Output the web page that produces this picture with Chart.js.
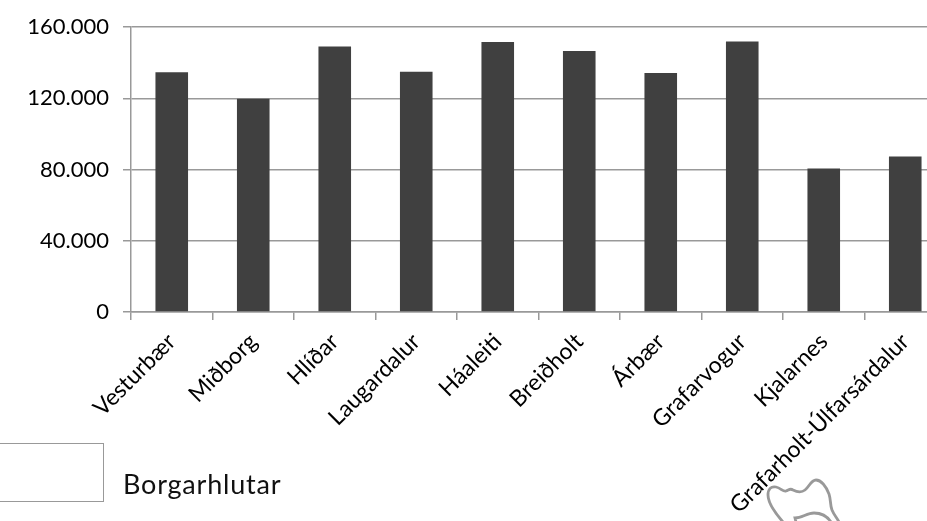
<!DOCTYPE html>
<html>
<head>
<meta charset="utf-8">
<style>
html, body { margin: 0; padding: 0; width: 927px; height: 521px; overflow: hidden; background: #fff; }
#wrap { position: relative; width: 990px; height: 521px; }
#box { position: absolute; left: -10px; top: 443px; width: 112px; height: 57px; border: 1px solid #999; }
#title { position: absolute; left: 123px; top: 467px; font: 27px Lato, sans-serif; letter-spacing: 0.8px; color: #111; }
#blob { position: absolute; left: 0; top: 0; }
</style>
<script src="https://cdn.jsdelivr.net/npm/chart.js@4"></script>
</head>
<body>
<div id="wrap">
  <canvas id="chart" width="990" height="521"></canvas>
  <div id="box"></div>
  <div id="title">Borgarhlutar</div>
  <svg id="blob" width="927" height="521" fill="none" stroke="#999" stroke-width="2.8">
    <path d="M783 522 C776 514 768 504 768 495 C768 489 771 486 776 487 C781 488 783 492 786 491 C789 490 790 488 793 490 C797 492 801 493 805 490 C809 487 811 480 816 480 C821 480 826 486 829 494 C831 500 830 505 832 510 C834 515 837 518 839 522"/>
    <path d="M796 522 L795 518 C802 518 807 513 814 513 C821 513 827 516 831 522"/>
  </svg>
</div>
<script>
const categories = ['Vesturbær', 'Miðborg', 'Hlíðar', 'Laugardalur', 'Háaleiti', 'Breiðholt', 'Árbær', 'Grafarvogur', 'Kjalarnes', 'Grafarholt-Úlfarsárdalur'];
const values = [134650, 119800, 149100, 135000, 151700, 146650, 134250, 151900, 80600, 87300];
const yTicks = [0, 40000, 80000, 120000, 160000];

const formatTick = v => v === 0 ? '0' : (v / 1000).toFixed(0) + '.000';

new Chart(document.getElementById('chart'), {
  type: 'bar',
  data: {
    labels: categories,
    datasets: [{ data: values, backgroundColor: '#404040', barPercentage: 0.4, categoryPercentage: 1 }]
  },
  options: {
    responsive: false,
    animation: false,
    layout: { padding: { left: 0, right: 44, top: 16, bottom: 0 } },
    plugins: { legend: { display: false }, tooltip: { enabled: false } },
    scales: {
      x: {
        afterFit: s => { s.height = 209; },
        grid: { drawOnChartArea: false, color: '#999', lineWidth: 1.5, tickLength: 8, offset: true },
        border: { color: '#999', width: 1.5 },
        ticks: { color: '#000', font: { family: 'Lato', size: 23 }, minRotation: 45, maxRotation: 45, autoSkip: false, padding: 8 }
      },
      y: {
        min: 0,
        max: 160000,
        afterFit: s => { s.width = 131; },
        afterBuildTicks: s => { s.ticks = yTicks.map(v => ({ value: v })); },
        grid: { color: '#999', lineWidth: 1.5, tickLength: 8 },
        border: { color: '#999', width: 1.5 },
        ticks: { color: '#000', font: { family: 'Lato', size: 22 }, padding: 14, callback: formatTick }
      }
    }
  }
});
</script>
</body>
</html>
